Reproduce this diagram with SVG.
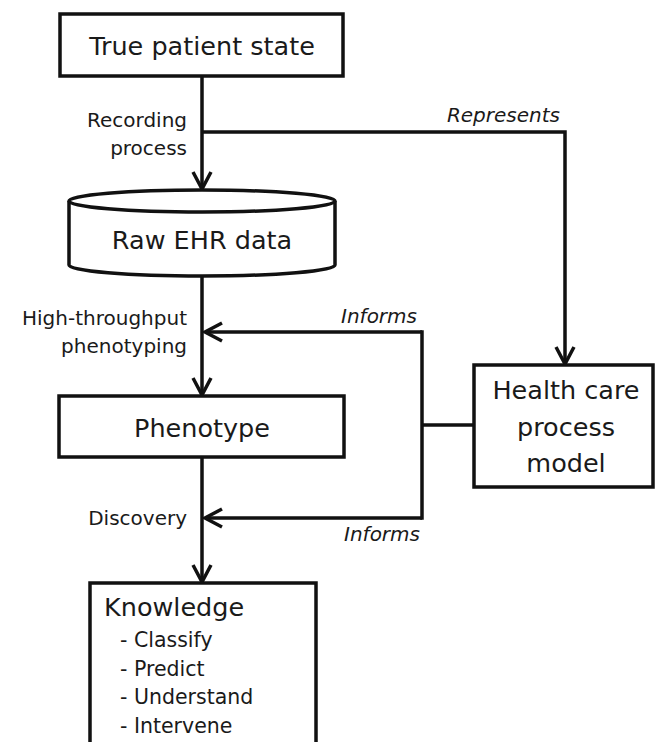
<svg xmlns="http://www.w3.org/2000/svg" width="656" height="742" viewBox="0 0 656 742">
<defs>
<style>
.box{fill:#fff;stroke:#111;stroke-width:3.5}
.ln{fill:none;stroke:#111;stroke-width:3.5}
.t{font-family:"DejaVu Sans",sans-serif;fill:#1a1a1a}
.big{font-size:25.5px}
.lbl{font-size:20px}
.it{font-style:italic}
.li{font-size:20.5px}
</style>
<marker id="ah" viewBox="-20 -12 24 24" markerWidth="24" markerHeight="24" refX="0" refY="0" orient="auto" markerUnits="userSpaceOnUse">
<path d="M-17,-9 L0,0 L-17,9" fill="none" stroke="#111" stroke-width="3.5" stroke-linejoin="miter"/>
</marker>
</defs>
<rect width="656" height="742" fill="#fff"/>
<g id="connectors">
<line class="ln" x1="202" y1="76" x2="202" y2="189" marker-end="url(#ah)"/>
<polyline class="ln" points="202,132 565,132 565,364" marker-end="url(#ah)"/>
<line class="ln" x1="202" y1="276" x2="202" y2="395" marker-end="url(#ah)"/>
<line class="ln" x1="474" y1="425" x2="422" y2="425"/>
<line class="ln" x1="422" y1="330.25" x2="422" y2="519.75"/>
<line class="ln" x1="422" y1="332" x2="205" y2="332" marker-end="url(#ah)"/>
<line class="ln" x1="422" y1="518" x2="205" y2="518" marker-end="url(#ah)"/>
<line class="ln" x1="202" y1="457" x2="202" y2="582" marker-end="url(#ah)"/>
<text class="t lbl" x="187" y="127" text-anchor="end">Recording</text>
<text class="t lbl" x="187" y="155" text-anchor="end">process</text>
<text class="t lbl it" x="560" y="122" text-anchor="end">Represents</text>
<text class="t lbl" x="187" y="325" text-anchor="end">High-throughput</text>
<text class="t lbl" x="187" y="353" text-anchor="end">phenotyping</text>
<text class="t lbl it" x="417" y="323" text-anchor="end">Informs</text>
<text class="t lbl" x="187" y="525" text-anchor="end">Discovery</text>
<text class="t lbl it" x="420" y="541" text-anchor="end">Informs</text>
</g>
<g id="true-patient-state">
<rect class="box" x="60" y="14" width="283" height="62"/>
<text class="t big" x="202" y="55" text-anchor="middle">True patient state</text>
</g>
<g id="raw-ehr-data">
<path class="box" d="M69,201 L69,265 A133,11 0 0 0 335,265 L335,201"/>
<ellipse class="box" cx="202" cy="201" rx="133" ry="11"/>
<text class="t big" x="202" y="249" text-anchor="middle">Raw EHR data</text>
</g>
<g id="phenotype">
<rect class="box" x="59" y="396" width="285" height="61"/>
<text class="t big" x="202" y="437" text-anchor="middle">Phenotype</text>
</g>
<g id="health-care-process-model">
<rect class="box" x="474" y="365" width="179" height="122"/>
<text class="t big" x="566" y="399" text-anchor="middle">Health care</text>
<text class="t big" x="566" y="436" text-anchor="middle">process</text>
<text class="t big" x="566" y="472" text-anchor="middle">model</text>
</g>
<g id="knowledge">
<rect class="box" x="90" y="583" width="226" height="200"/>
<text class="t big" x="104" y="616">Knowledge</text>
<text class="t li" x="120" y="647">- Classify</text>
<text class="t li" x="120" y="676">- Predict</text>
<text class="t li" x="120" y="704">- Understand</text>
<text class="t li" x="120" y="733">- Intervene</text>
</g>
</svg>
